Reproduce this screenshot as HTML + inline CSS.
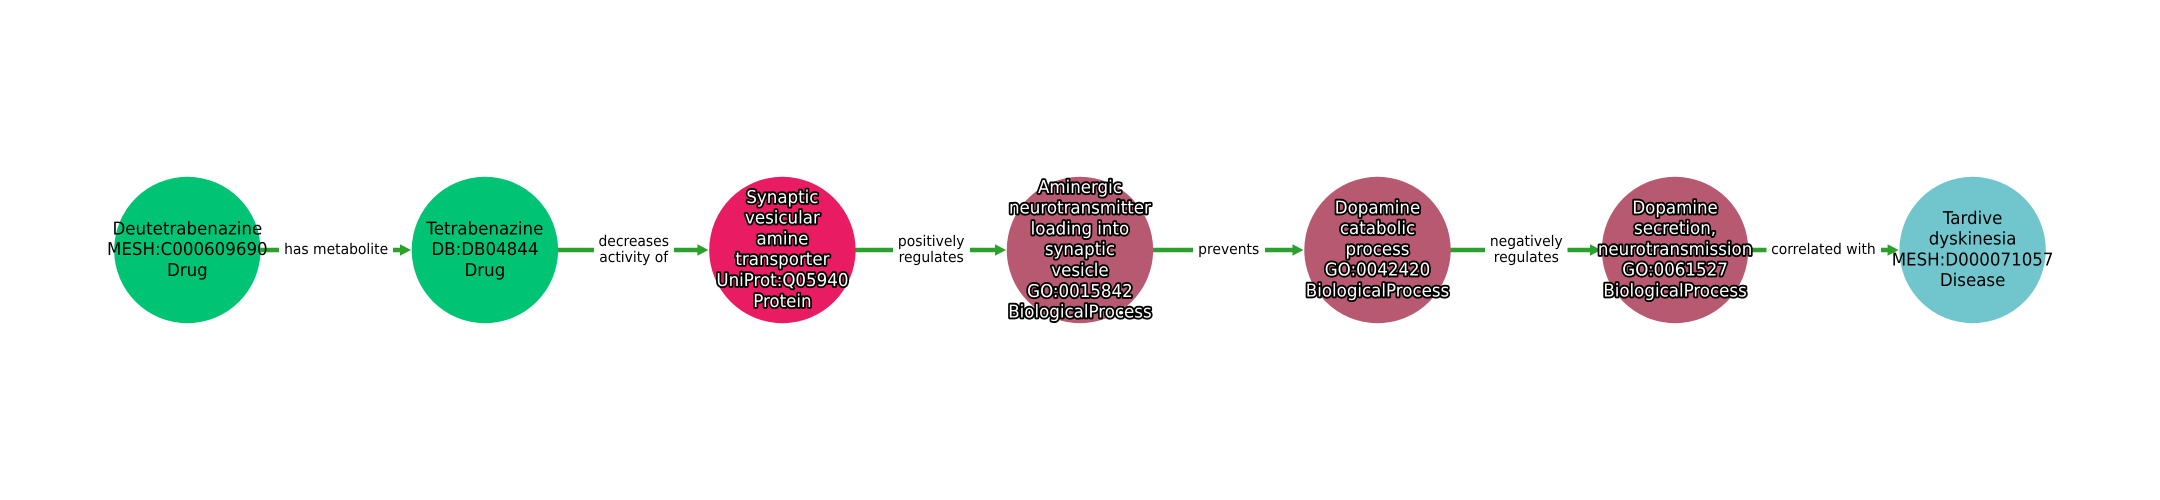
<!DOCTYPE html>
<html><head><meta charset="utf-8"><style>
html,body{margin:0;padding:0;background:#fff;width:2160px;height:500px;overflow:hidden}
svg{display:block}
text{font-family:"DejaVu Sans",sans-serif;text-anchor:middle;text-rendering:geometricPrecision;transform-box:fill-box;transform-origin:center;transform:scale(1,1.06)}
.n{font-size:16.67px;fill:#000}
.o{font-size:16.67px;fill:#fff;stroke:#000;stroke-width:3.5px;paint-order:stroke;stroke-linejoin:round}
.e{font-size:13.9px;fill:#000}
.l{stroke:#2ca02c;stroke-width:4.4px}
.h{fill:#2ca02c}
</style></head><body>
<svg width="2160" height="500" viewBox="0 0 2160 500" xmlns="http://www.w3.org/2000/svg">
<rect width="2160" height="500" fill="#fff"/>
<g>
<line class="l" x1="260" y1="250" x2="402" y2="250"/><polygon class="h" points="411,250 400,244.3 400,255.7"/>
<line class="l" x1="558" y1="250" x2="699" y2="250"/><polygon class="h" points="708.4,250 697.4,244.3 697.4,255.7"/>
<line class="l" x1="855" y1="250" x2="997" y2="250"/><polygon class="h" points="1006,250 995,244.3 995,255.7"/>
<line class="l" x1="1153" y1="250" x2="1294" y2="250"/><polygon class="h" points="1303.5,250 1292.5,244.3 1292.5,255.7"/>
<line class="l" x1="1450" y1="250" x2="1592" y2="250"/><polygon class="h" points="1601,250 1590,244.3 1590,255.7"/>
<line class="l" x1="1748" y1="250" x2="1889" y2="250"/><polygon class="h" points="1898.6,250 1887.6,244.3 1887.6,255.7"/>
</g>
<circle cx="187.35" cy="250" r="73.2" fill="#00c373"/>
<circle cx="484.9" cy="250" r="73.2" fill="#00c373"/>
<circle cx="782.4" cy="250" r="73.2" fill="#e91b63"/>
<circle cx="1079.95" cy="250" r="73.2" fill="#b75970"/>
<circle cx="1377.5" cy="250" r="73.2" fill="#b75970"/>
<circle cx="1675.05" cy="250" r="73.2" fill="#b75970"/>
<circle cx="1972.6" cy="250" r="73.2" fill="#70c6cc"/>
<g fill="#fff">
<rect x="279" y="240" width="114" height="20"/>
<rect x="594" y="232" width="80" height="36"/>
<rect x="893" y="232" width="77" height="36"/>
<rect x="1193" y="240" width="72" height="20"/>
<rect x="1485" y="232" width="82.5" height="36"/>
<rect x="1766.5" y="240" width="114.5" height="20"/>
</g>
<g class="e">
<text x="336.1" y="254">has metabolite</text>
<text x="633.7" y="246">decreases</text><text x="633.7" y="262">activity of</text>
<text x="931.2" y="246">positively</text><text x="931.2" y="262">regulates</text>
<text x="1228.7" y="254">prevents</text>
<text x="1526.3" y="246">negatively</text><text x="1526.3" y="262">regulates</text>
<text x="1823.4" y="254">correlated with</text>
</g>
<g class="n">
<text x="187.35" y="234">Deutetrabenazine</text><text x="187.35" y="254.8">MESH:C000609690</text><text x="187.35" y="275.5">Drug</text>
<text x="484.9" y="234">Tetrabenazine</text><text x="484.9" y="254.8">DB:DB04844</text><text x="484.9" y="275.5">Drug</text>
<text x="1972.6" y="223.5">Tardive</text><text x="1972.6" y="244.3">dyskinesia</text><text x="1972.6" y="265.1">MESH:D000071057</text><text x="1972.6" y="285.9">Disease</text>
</g>
<g class="o">
<text x="782.4" y="202.5">Synaptic</text><text x="782.4" y="223.3">vesicular</text><text x="782.4" y="244.1">amine</text><text x="782.4" y="264.9">transporter</text><text x="782.4" y="285.7">UniProt:Q05940</text><text x="782.4" y="306.5">Protein</text>
<text x="1079.95" y="192.5">Aminergic</text><text x="1079.95" y="213.3">neurotransmitter</text><text x="1079.95" y="234.1">loading into</text><text x="1079.95" y="254.9">synaptic</text><text x="1079.95" y="275.7">vesicle</text><text x="1079.95" y="296.5">GO:0015842</text><text x="1079.95" y="317.3">BiologicalProcess</text>
<text x="1377.5" y="213">Dopamine</text><text x="1377.5" y="233.8">catabolic</text><text x="1377.5" y="254.6">process</text><text x="1377.5" y="275.4">GO:0042420</text><text x="1377.5" y="296.2">BiologicalProcess</text>
<text x="1675.05" y="213">Dopamine</text><text x="1675.05" y="233.8">secretion,</text><text x="1675.05" y="254.6">neurotransmission</text><text x="1675.05" y="275.4">GO:0061527</text><text x="1675.05" y="296.2">BiologicalProcess</text>
</g>
</svg>
</body></html>
